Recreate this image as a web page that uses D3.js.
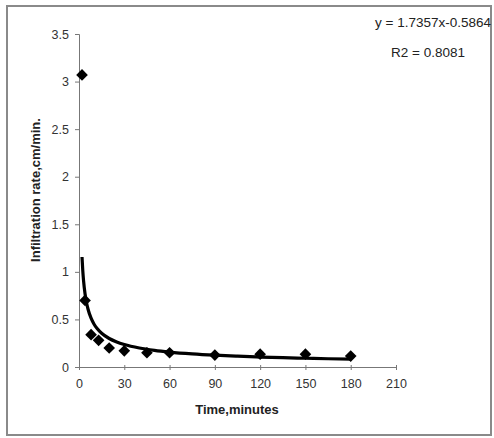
<!DOCTYPE html>
<html><head><meta charset="utf-8">
<script src="https://cdn.jsdelivr.net/npm/d3@7"></script>
<style>body{margin:0;background:#fff}svg{display:block;font-family:"Liberation Sans",Arial,sans-serif}</style>
</head><body><svg id="c" width="494" height="438"></svg>
<script>
const times = [2, 4, 8, 13, 20, 30, 45, 60, 90, 120, 150, 180];
const rates = [3.07, 0.70, 0.34, 0.28, 0.20, 0.17, 0.15, 0.15, 0.125, 0.135, 0.135, 0.115];
const xTicks = [0, 30, 60, 90, 120, 150, 180, 210];
const yTicks = [0, 0.5, 1, 1.5, 2, 2.5, 3, 3.5];
const trendCoef = [1.7357, -0.5864];
const trendTimes = [2, 2.5, 3, 4, 5, 6, 8, 10, 12, 15, 20, 25, 30, 40, 50, 60, 75, 90, 105, 120, 135, 150, 165, 180];
const eqText = "y = 1.7357x-0.5864";
const r2Text = "R2 = 0.8081";

const svg = d3.select("#c");
svg.append("rect").attr("x",7).attr("y",6).attr("width",484).attr("height",429)
  .attr("fill","#fff").attr("stroke","#8a8a8a").attr("stroke-width",2);

const x = d3.scaleLinear().domain([0,210]).range([79,396]);
const y = d3.scaleLinear().domain([0,3.5]).range([367,34]);

const gy = svg.append("g").attr("transform","translate(79,0)")
  .call(d3.axisLeft(y).tickValues(yTicks).tickFormat(d=>String(d)).tickSize(4).tickPadding(6));
const gx = svg.append("g").attr("transform","translate(0,367)")
  .call(d3.axisBottom(x).tickValues(xTicks).tickFormat(d=>String(d)).tickSize(3).tickPadding(9));
[gx,gy].forEach(g=>{
  g.select(".domain").attr("stroke","#777");
  g.selectAll(".tick line").attr("stroke","#777");
  g.selectAll(".tick text").attr("fill","#333").style("font-size","12.5px").style("font-family","Liberation Sans, Arial, sans-serif");
});
gx.selectAll(".tick line").attr("y1",-2);

const line = d3.line().x(d=>x(d)).y(d=>y(trendCoef[0]*Math.pow(d,trendCoef[1]))).curve(d3.curveMonotoneX);
const sym = d3.symbol().type(d3.symbolSquare).size(68);
svg.append("g").selectAll("path").data(times).join("path")
  .attr("d",sym).attr("fill","#000")
  .attr("transform",(d,i)=>`translate(${x(d)},${y(rates[i])}) rotate(45)`);
svg.append("path").datum(trendTimes).attr("d",line)
  .attr("fill","none").attr("stroke","#000").attr("stroke-width",3.2);

svg.append("text").attr("x",491).attr("y",27).attr("text-anchor","end")
  .style("font-size","13.5px").attr("fill","#222").text(eqText);
svg.append("text").attr("x",428).attr("y",57).attr("text-anchor","middle")
  .style("font-size","13.5px").attr("fill","#222").text(r2Text);

svg.append("text").attr("transform","translate(40,190) rotate(-90)").attr("text-anchor","middle")
  .style("font-size","13px").style("font-weight","bold").attr("fill","#222").text("Infiltration rate,cm/min.");
svg.append("text").attr("x",237).attr("y",414).attr("text-anchor","middle")
  .style("font-size","13px").style("font-weight","bold").attr("fill","#222").text("Time,minutes");
</script></body></html>
